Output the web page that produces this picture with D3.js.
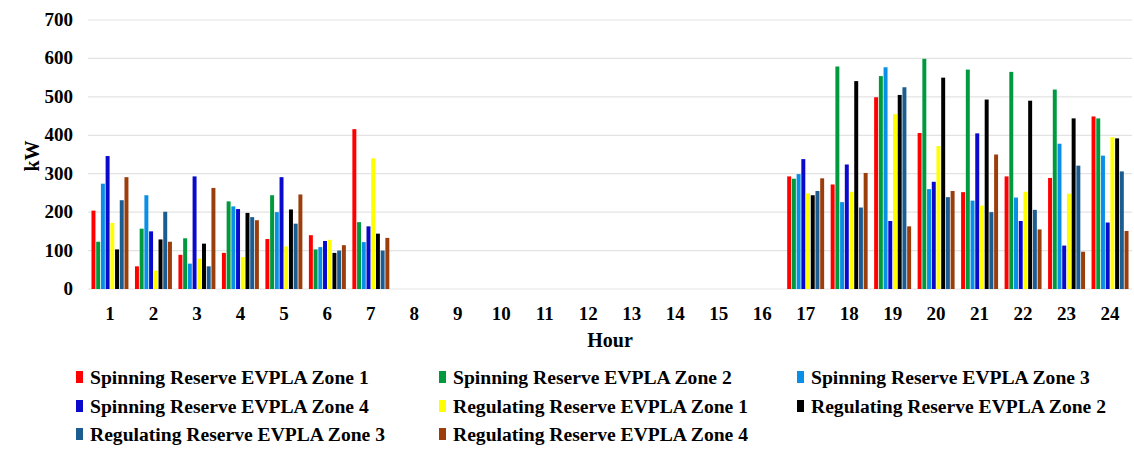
<!DOCTYPE html>
<html>
<head>
<meta charset="utf-8">
<script src="https://cdn.jsdelivr.net/npm/d3@7"></script>
<style>
  body { margin: 0; background: #fff; }
  svg { display: block; font-family: "Liberation Serif", "Times New Roman", serif; font-weight: bold; }
</style>
</head>
<body>
<svg width="1134" height="451"></svg>
<script>
// hours on the x axis
const hours = d3.range(1, 25);

const seriesNames = [
    "Spinning Reserve EVPLA Zone 1", "Spinning Reserve EVPLA Zone 2", "Spinning Reserve EVPLA Zone 3",
    "Spinning Reserve EVPLA Zone 4", "Regulating Reserve EVPLA Zone 1", "Regulating Reserve EVPLA Zone 2",
    "Regulating Reserve EVPLA Zone 3", "Regulating Reserve EVPLA Zone 4"
];
const seriesColors = ["#ff0000", "#009a3e", "#0a8fe6", "#0a0acc", "#ffff00", "#000000", "#1b5c91", "#9c3d0c"];

// kW per hour, hours 8-16 are zero
const spinZone1 = [204, 59, 89, 94, 130, 140, 416, 0, 0, 0, 0, 0, 0, 0, 0, 0, 293, 272, 499, 406, 252, 293, 289, 449];
const spinZone2 = [123, 157, 132, 228, 244, 103, 174, 0, 0, 0, 0, 0, 0, 0, 0, 0, 287, 579, 554, 599, 571, 565, 519, 444];
const spinZone3 = [274, 244, 66, 215, 200, 109, 122, 0, 0, 0, 0, 0, 0, 0, 0, 0, 299, 226, 577, 260, 230, 238, 378, 347];
const spinZone4 = [346, 150, 293, 208, 291, 125, 163, 0, 0, 0, 0, 0, 0, 0, 0, 0, 338, 324, 177, 279, 405, 177, 113, 173];
const regZone1 = [172, 48, 79, 83, 111, 128, 340, 0, 0, 0, 0, 0, 0, 0, 0, 0, 249, 253, 455, 372, 217, 253, 248, 395];
const regZone2 = [103, 129, 118, 198, 207, 94, 144, 0, 0, 0, 0, 0, 0, 0, 0, 0, 244, 541, 505, 550, 493, 490, 444, 392];
const regZone3 = [231, 201, 59, 187, 170, 100, 100, 0, 0, 0, 0, 0, 0, 0, 0, 0, 255, 212, 525, 239, 200, 206, 321, 306];
const regZone4 = [291, 123, 263, 179, 246, 114, 133, 0, 0, 0, 0, 0, 0, 0, 0, 0, 288, 302, 163, 255, 350, 155, 97, 151];

const yTicks = [0, 100, 200, 300, 400, 500, 600, 700];

const allSeries = [spinZone1, spinZone2, spinZone3, spinZone4, regZone1, regZone2, regZone3, regZone4];

const svg = d3.select('svg');
const margin = { top: 20, right: 2, bottom: 162, left: 88 };
const width = 1134, height = 451;
const innerW = width - margin.left - margin.right;
const innerH = height - margin.top - margin.bottom;

const g = svg.append('g').attr('transform', `translate(${margin.left},${margin.top})`);

const x = d3.scaleBand().domain(hours).range([0, innerW]).paddingInner(0.15).paddingOuter(0.08);
const xs = d3.scaleBand().domain(d3.range(8)).range([0, x.bandwidth()]).paddingInner(0.16);
const y = d3.scaleLinear().domain([0, 700]).range([innerH, 0]);

// gridlines
g.selectAll('.grid')
    .data(yTicks)
    .enter()
    .append('line')
    .attr('x1', 0).attr('x2', innerW)
    .attr('y1', d => y(d)).attr('y2', d => y(d))
    .attr('stroke', '#e3e3e3')
    .attr('stroke-width', 1.2);

// y tick labels
g.selectAll('.ytick')
    .data(yTicks)
    .enter()
    .append('text')
    .attr('x', -15)
    .attr('y', d => y(d) + 6)
    .attr('text-anchor', 'end')
    .style('font-size', '19px')
    .text(d => d);

// bars
const groups = g.selectAll('.hour')
    .data(hours)
    .enter()
    .append('g')
    .attr('transform', d => `translate(${x(d)},0)`);

groups.selectAll('rect')
    .data((h, i) => allSeries.map((s, k) => ({ k, v: s[i] })))
    .enter()
    .append('rect')
    .attr('x', d => xs(d.k))
    .attr('y', d => y(d.v))
    .attr('width', xs.bandwidth())
    .attr('height', d => innerH - y(d.v))
    .attr('fill', d => seriesColors[d.k]);

// x tick labels
g.selectAll('.xtick')
    .data(hours)
    .enter()
    .append('text')
    .attr('x', d => x(d) + x.bandwidth() / 2)
    .attr('y', innerH + 31)
    .attr('text-anchor', 'middle')
    .style('font-size', '19px')
    .text(d => d);

// axis titles
svg.append('text')
    .attr('x', 610)
    .attr('y', 347)
    .attr('text-anchor', 'middle')
    .style('font-size', '20px')
    .text('Hour');

svg.append('text')
    .attr('transform', 'translate(39,156) rotate(-90)')
    .attr('text-anchor', 'middle')
    .style('font-size', '20px')
    .text('kW');

// legend
const legendCols = [76, 439, 797];
const legendRows = [377, 406, 434];
const legend = svg.selectAll('.legend')
    .data(seriesNames)
    .enter()
    .append('g')
    .attr('transform', (d, i) => `translate(${legendCols[i % 3]},${legendRows[Math.floor(i / 3)]})`);

legend.append('rect')
    .attr('x', 0).attr('y', -6)
    .attr('width', 7).attr('height', 12)
    .attr('fill', (d, i) => seriesColors[i]);

legend.append('text')
    .attr('x', 14)
    .attr('y', 7)
    .style('font-size', '19.6px')
    .text(d => d);
</script>
</body>
</html>
